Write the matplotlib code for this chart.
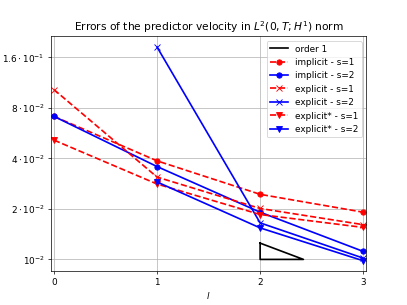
import numpy as np
import matplotlib
matplotlib.use("Agg")
import matplotlib.pyplot as plt

levels = [0, 1, 2, 3]
implicit_s1 = [0.0710, 0.0386, 0.0244, 0.0191]
implicit_s2 = [0.0710, 0.0357, 0.0191, 0.01116]
explicit_s1 = [0.1025, 0.0309, 0.0201, 0.0161]
explicit_s2 = [np.nan, 0.1836, 0.0165, 0.01018]
explicitstar_s1 = [0.0513, 0.0281, 0.0185, 0.0155]
explicitstar_s2 = [np.nan, 0.0289, 0.0154, 0.00982]

tri_x = [2, 2, 2.42, 2]
tri_y = [0.0125, 0.01, 0.01, 0.0125]

yticks = [1e-2, 2e-2, 4e-2, 8e-2, 1.6e-1]
yticklabels = [r"$10^{-2}$", r"$2\cdot10^{-2}$", r"$4\cdot10^{-2}$",
               r"$8\cdot10^{-2}$", r"$1.6\cdot10^{-1}$"]

lw = 1.9
fig, ax = plt.subplots(figsize=(6.4, 4.8), dpi=407 / 6.4)
ax.plot(tri_x, tri_y, color="k", lw=lw, label="order 1")
ax.plot(levels, implicit_s1, "r--", lw=lw, marker="o", label="implicit - s=1")
ax.plot(levels, implicit_s2, "b-", lw=lw, marker="o", label="implicit - s=2")
ax.plot(levels, explicit_s1, "r--", lw=lw, marker="x", label="explicit - s=1")
ax.plot(levels, explicit_s2, "b-", lw=lw, marker="x", label="explicit - s=2")
ax.plot(levels, explicitstar_s1, "r--", lw=lw, marker="v", label="explicit* - s=1")
ax.plot(levels, explicitstar_s2, "b-", lw=lw, marker="v", label="explicit* - s=2")

ax.set_yscale("log")
ax.set_yticks(yticks)
ax.set_yticklabels(yticklabels)
ax.minorticks_off()
ax.set_xticks(levels)
ax.set_xlim(-0.03, 3.03)
ax.grid(True)
ax.set_xlabel(r"$l$")
ax.set_title(r"Errors of the predictor velocity in $L^2(0,T;H^1)$ norm")
ax.legend(loc="upper right")
fig.savefig("out.png", dpi=407 / 6.4)
